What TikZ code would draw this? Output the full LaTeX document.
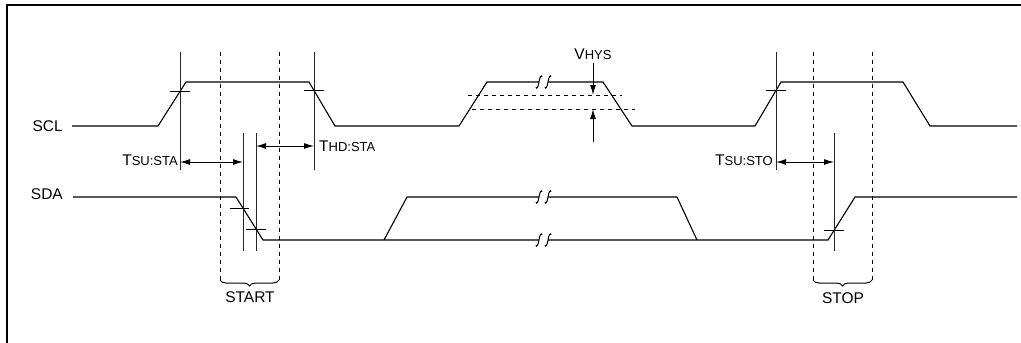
\documentclass[tikz,border=0pt]{standalone}
\usepackage{fontspec}
\setmainfont{Liberation Sans}
\usetikzlibrary{arrows.meta,decorations.pathreplacing}
\newcommand{\smtxt}[1]{{\fontsize{13}{15}\selectfont #1}}
\begin{document}
\begin{tikzpicture}[x=1pt,y=-1pt,
  sig/.style={line width=1.1pt, line join=miter},
  meas/.style={line width=1pt, black!85},
  dsh/.style={line width=1pt, dash pattern=on 4pt off 4pt},
  tk/.style={line width=1pt},
  arr/.style={line width=1pt, {Latex[length=10pt,width=6pt]}-{Latex[length=10pt,width=6pt]}},
  onearr/.style={line width=1pt, -{Latex[length=10pt,width=6pt]}},
  lbl/.style={inner sep=0pt, font=\fontsize{15.5}{18}\selectfont},
  brc/.style={line width=1pt, decorate, decoration={brace, amplitude=6pt, mirror}},
  brk/.pic={\draw[line width=1pt] (-3,5) .. controls (-2.5,7.5) and (-1,6) .. (0,0) .. controls (1,-6) and (2.5,-7.5) .. (3,-5);}
]
\useasboundingbox (0,0) rectangle (1021,343);
% frame (top and left only)
\draw[line width=2pt] (7,343) -- (7,5.3) -- (1021,5.3);

% ---- SCL ----
\draw[sig] (72,126) -- (158,126) -- (186,82) -- (309,82) -- (335,126) -- (459,126) -- (487,82) -- (539,82);
\draw[sig] (548,82) -- (603,82) -- (632,126) -- (755,126) -- (781,82) -- (903,82) -- (930,126) -- (1017,126);
\pic at (539,82) {brk};
\pic at (548,82) {brk};

% ---- SDA ----
\draw[sig] (73,197) -- (236,197) -- (263,240) -- (539,240);
\draw[sig] (548,240) -- (828,240) -- (855,197) -- (1017,197);
\draw[sig] (384,240) -- (407,197) -- (539,197);
\draw[sig] (548,197) -- (677,197) -- (697,240);
\pic at (539,197) {brk};
\pic at (548,197) {brk};
\pic at (539,240) {brk};
\pic at (548,240) {brk};

% ---- hysteresis ----
\draw[dsh] (468,95) -- (622,95);
\draw[dsh] (472,109) -- (635,109);
\draw[onearr] (593,63) -- (593,95);
\draw[onearr] (593,142) -- (593,109);

% ---- measurement verticals ----
\draw[meas] (180,52) -- (180,170);
\draw[meas] (314,52) -- (314,170);
\draw[meas] (776,52) -- (776,170);
\draw[meas] (243,133) -- (243,251);
\draw[meas] (256,133) -- (256,251);
\draw[meas] (834,133) -- (834,251);

% ---- ticks ----
\draw[tk] (170,91) -- (190,91);
\draw[tk] (304,90.5) -- (324,90.5);
\draw[tk] (766,90.5) -- (786,90.5);
\draw[tk] (230,208) -- (249,208);
\draw[tk] (246,229) -- (266,229);
\draw[tk] (824,230.5) -- (844,230.5);

% ---- timing arrows ----
\draw[arr] (180,162) -- (243,162);
\draw[arr] (256,146) -- (314,146);
\draw[arr] (776,162) -- (834,162);

% ---- dashed windows ----
\draw[dsh] (220,52) -- (220,280);
\draw[dsh] (279,52) -- (279,280);
\draw[dsh] (813,52) -- (813,280);
\draw[dsh] (872,52) -- (872,280);
\draw[brc] (220,280) -- (279,280);
\draw[brc] (813,280) -- (872,280);

% ---- labels ----
\node[lbl, anchor=base east] (scl) at (63,131.5) {SCL};
\node[lbl, anchor=base east] (sda) at (63,199.5) {SDA};
\node[lbl, anchor=base east] (tsusta) at (178,165.5) {T\smtxt{SU:STA}};
\node[lbl, anchor=base west] (thdsta) at (319,151) {T\smtxt{HD:STA}};
\node[lbl, anchor=base] (vhys) at (593,59) {V\smtxt{HYS}};
\node[lbl, anchor=base] (start) at (250,302.5) {START};
\node[lbl, anchor=base] (stop) at (843,303) {STOP};
\node[lbl, anchor=base east] (tsusto) at (773,165.5) {T\smtxt{SU:STO}};
\end{tikzpicture}
\end{document}
